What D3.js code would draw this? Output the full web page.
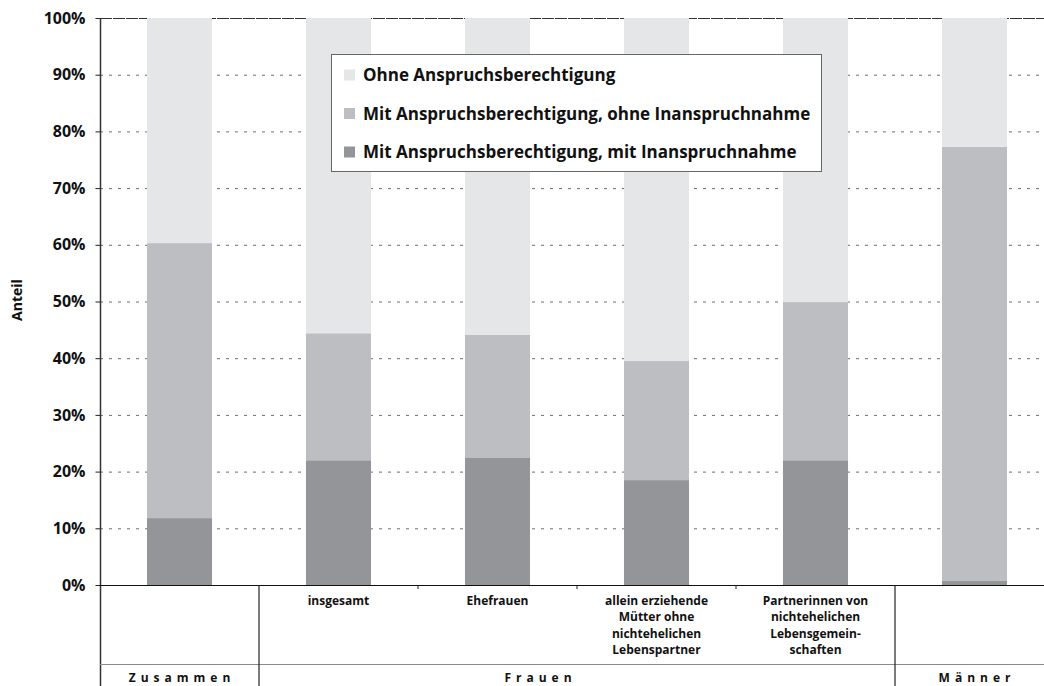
<!DOCTYPE html>
<html>
<head>
<meta charset="utf-8">
<script src="https://cdn.jsdelivr.net/npm/d3@7"></script>
<style>
  body { margin: 0; background: #fff; }
  text { font-family: "Open Sans", "DejaVu Sans", sans-serif; font-weight: 700; fill: #111; }
</style>
</head>
<body>
<script>
// categories (bars), left to right
var categories = ["Zusammen", "insgesamt", "Ehefrauen", "allein", "partner", "Maenner"];
var categoryLabels = [
  [],
  ["insgesamt"],
  ["Ehefrauen"],
  ["allein erziehende", "Mütter ohne", "nichtehelichen", "Lebenspartner"],
  ["Partnerinnen von", "nichtehelichen", "Lebensgemein-", "schaften"],
  []
];
// series values in percent
var mitInanspruchnahme  = [11.8, 22.0, 22.4, 18.5, 22.0, 0.7];
var ohneInanspruchnahme = [48.5, 22.4, 21.7, 21.0, 27.9, 76.6];
var ohneBerechtigung    = [39.7, 55.6, 55.9, 60.5, 50.1, 22.7];
var legendLabels = [
  "Ohne Anspruchsberechtigung",
  "Mit Anspruchsberechtigung, ohne Inanspruchnahme",
  "Mit Anspruchsberechtigung, mit Inanspruchnahme"
];
var groups = [
  {name: "Zusammen", from: 0, to: 0},
  {name: "Frauen", from: 1, to: 4},
  {name: "Männer", from: 5, to: 5}
];
var yTicks = [0, 10, 20, 30, 40, 50, 60, 70, 80, 90, 100];

var W = 1044, H = 686;
var colors = {ohne: "#e5e6e8", mitOhne: "#bdbec2", mit: "#949598"};

var svg = d3.select("body").append("svg")
    .attr("width", W)
    .attr("height", H);

var y = d3.scaleLinear().domain([0, 100]).range([585, 18]);
var x = d3.scaleBand()
    .domain(categories)
    .range([100, 1054])
    .paddingInner(0.591)
    .paddingOuter(0.2955);
var step = x.step();
var gap = step - x.bandwidth();

// grid lines
svg.append("g").selectAll("line")
    .data(yTicks.filter(function(t){ return t > 0 && t < 100; }))
    .enter().append("line")
    .attr("x1", 100).attr("x2", W)
    .attr("y1", function(d){ return y(d) + 0.5; })
    .attr("y2", function(d){ return y(d) + 0.5; })
    .attr("stroke", "#6e6e6e")
    .attr("stroke-width", 1)
    .attr("stroke-dasharray", "3,6");
svg.append("line")
    .attr("x1", 100).attr("x2", W)
    .attr("y1", y(100) + 0.5).attr("y2", y(100) + 0.5)
    .attr("stroke", "#333")
    .attr("stroke-dasharray", "12,1");

// stacked data
var table = categories.map(function(c, i){
  return {cat: c, mit: mitInanspruchnahme[i], mitOhne: ohneInanspruchnahme[i], ohne: ohneBerechtigung[i]};
});
var stack = d3.stack().keys(["mit", "mitOhne", "ohne"]);
var layers = stack(table);

svg.append("g").selectAll("g")
    .data(layers)
    .enter().append("g")
    .attr("fill", function(d){ return colors[d.key]; })
    .selectAll("rect")
    .data(function(d){ return d; })
    .enter().append("rect")
    .attr("x", function(d){ return x(d.data.cat); })
    .attr("width", x.bandwidth())
    .attr("y", function(d){ return y(Math.min(d[1], 100)); })
    .attr("height", function(d){ return y(d[0]) - y(Math.min(d[1], 100)); });

// y axis
var yAxis = svg.append("g")
    .attr("transform", "translate(100.5,0)")
    .call(d3.axisLeft(y).tickValues(yTicks).tickSize(5).tickFormat(function(d){ return d + "%"; }));
yAxis.select(".domain").remove();
yAxis.selectAll(".tick line").attr("stroke", "#222");
yAxis.selectAll(".tick text")
    .attr("x", -15)
    .style("font-size", "16px")
    .style("font-family", "'Open Sans', sans-serif")
    .style("font-weight", 700)
    .attr("fill", "#111");

svg.append("line")
    .attr("x1", 100.5).attr("x2", 100.5)
    .attr("y1", 18).attr("y2", H)
    .attr("stroke", "#333").attr("stroke-width", 1.5);

// baseline
svg.append("line")
    .attr("x1", 100).attr("x2", W)
    .attr("y1", y(0) + 0.5).attr("y2", y(0) + 0.5)
    .attr("stroke", "#111").attr("stroke-width", 1.2);

// category table below
svg.append("line")
    .attr("x1", 100).attr("x2", W)
    .attr("y1", 664.5).attr("y2", 664.5)
    .attr("stroke", "#8a8a8a").attr("stroke-width", 1.2);

// group separators
groups.forEach(function(g, gi){
  if (gi === 0) return;
  var xs = x(categories[g.from]) - gap / 2;
  svg.append("line")
      .attr("x1", xs).attr("x2", xs)
      .attr("y1", y(0)).attr("y2", H)
      .attr("stroke", "#222").attr("stroke-width", 1.2);
});
// small ticks inside groups
groups.forEach(function(g){
  for (var i = g.from + 1; i <= g.to; i++) {
    var xs = x(categories[i]) - gap / 2;
    svg.append("line")
        .attr("x1", xs).attr("x2", xs)
        .attr("y1", y(0)).attr("y2", y(0) + 4)
        .attr("stroke", "#222");
  }
});

// category labels
categories.forEach(function(c, i){
  var t = svg.append("text")
      .attr("text-anchor", "middle")
      .attr("x", x(c) + x.bandwidth() / 2)
      .attr("y", 605)
      .style("font-size", "12px");
  categoryLabels[i].forEach(function(line, li){
    t.append("tspan")
        .attr("x", x(c) + x.bandwidth() / 2)
        .attr("dy", li === 0 ? 0 : 16.4)
        .text(line);
  });
});

// group labels
var groupShift = [0, -39, 0];
groups.forEach(function(g, gi){
  var x0 = x(categories[g.from]) - gap / 2;
  var x1 = x(categories[g.to]) + x.bandwidth() + gap / 2;
  svg.append("text")
      .attr("text-anchor", "middle")
      .attr("x", (x0 + x1) / 2 + groupShift[gi] + 2.5)
      .attr("y", 682)
      .style("font-size", "12px")
      .style("letter-spacing", "5px")
      .text(g.name);
});

// y title
svg.append("text")
    .attr("transform", "translate(22,300) rotate(-90)")
    .attr("text-anchor", "middle")
    .style("font-size", "14px")
    .text("Anteil");

// legend
var legend = svg.append("g");
legend.append("rect")
    .attr("x", 331.5).attr("y", 54.5)
    .attr("width", 490).attr("height", 117)
    .attr("fill", "#fff")
    .attr("stroke", "#666");
var legendColors = [colors.ohne, colors.mitOhne, colors.mit];
legendLabels.forEach(function(l, i){
  var cy = 75 + i * 38.5;
  legend.append("rect")
      .attr("x", 344).attr("y", cy - 5.5)
      .attr("width", 11).attr("height", 11)
      .attr("fill", legendColors[i]);
  legend.append("text")
      .attr("x", 363).attr("y", cy + 6)
      .style("font-size", "17px")
      .text(l);
});
</script>
</body>
</html>
